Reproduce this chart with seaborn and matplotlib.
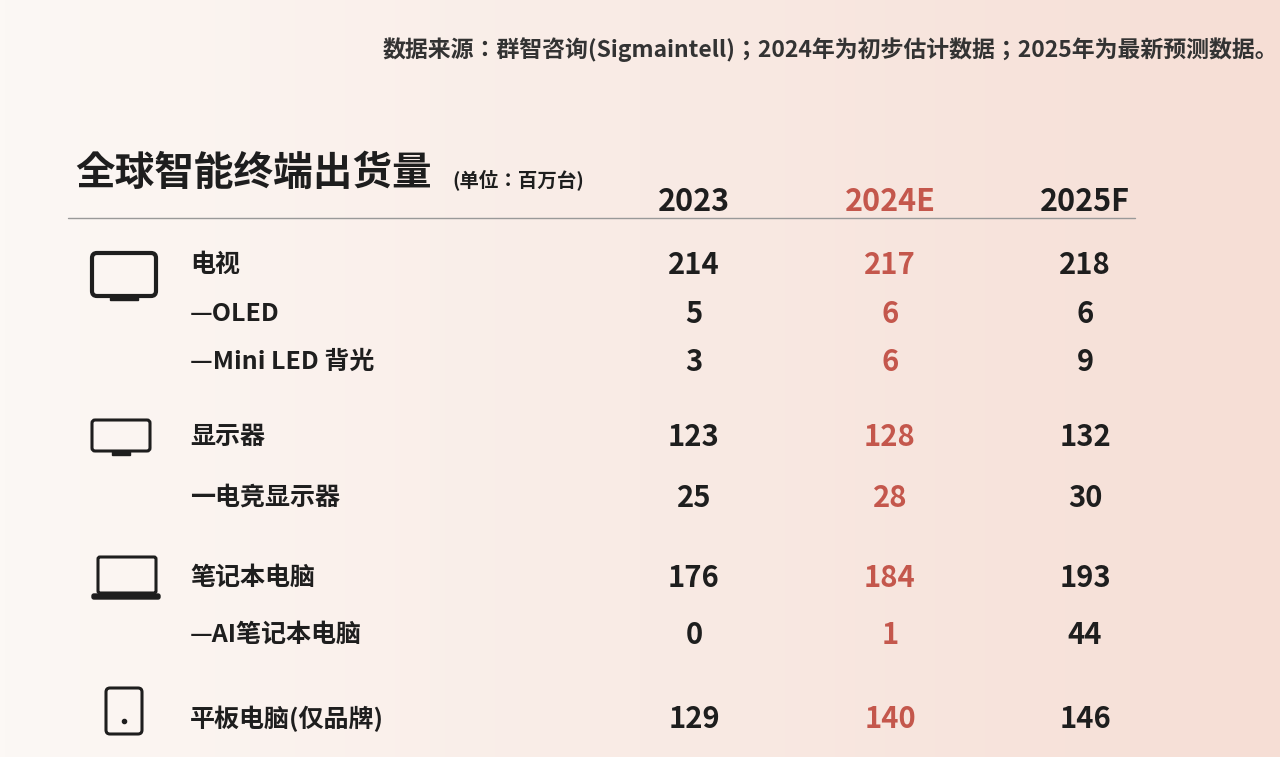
import numpy as np
import matplotlib
matplotlib.use("Agg")
import matplotlib.pyplot as plt
from matplotlib import font_manager as fm
from matplotlib.patches import FancyBboxPatch, Rectangle
import seaborn as sns

names = sorted({f.name for f in fm.fontManager.ttflist})
cjk = [n for n in names if "CJK SC" in n] or [n for n in names if "CJK" in n] or ["DejaVu Sans"]
sns.set_theme(style="white", font=cjk[0])
plt.rcParams["font.family"] = [cjk[0], "DejaVu Sans"]

columns = ["2023", "2024E", "2025F"]
labels = ["电视", "—OLED", "—Mini LED 背光", "显示器", "一电竞显示器", "笔记本电脑", "—AI笔记本电脑", "平板电脑(仅品牌)"]
v2023 = [214, 5, 3, 123, 25, 176, 0, 129]
v2024 = [217, 6, 6, 128, 28, 184, 1, 140]
v2025 = [218, 6, 9, 132, 30, 193, 44, 146]
title = "全球智能终端出货量"
unit = "(单位：百万台)"
source = "数据来源：群智咨询(Sigmaintell)；2024年为初步估计数据；2025年为最新预测数据。"

W, H = 1280, 757
fig = plt.figure(figsize=(12.8, 7.57), dpi=100)
ax = fig.add_axes([0, 0, 1, 1])
ax.set_xlim(0, W); ax.set_ylim(H, 0); ax.axis("off")

c1 = np.array([252, 248, 245]) / 255
c2 = np.array([246, 222, 213]) / 255
t = np.linspace(0, 1, 256)[None, :, None]
grad = c1 + (c2 - c1) * t
ax.imshow(grad, extent=[0, W, H, 0], aspect="auto", zorder=0)

dark = "#1e1e1e"
red = "#c4574c"
ax.text(1278, 50, source, ha="right", va="center", fontsize=16.5, color="#333333", fontweight="bold")
ax.text(75, 173, title, ha="left", va="center", fontsize=28.5, color=dark, fontweight="bold")
ax.text(452, 180, unit, ha="left", va="center", fontsize=14, color=dark, fontweight="bold")
ax.plot([68, 1135], [218, 218], color="#999999", lw=1)

col_x = [694, 890, 1085]
col_c = [dark, red, dark]
for x, name, c in zip(col_x, columns, col_c):
    ax.text(x, 202, name, ha="center", va="center", fontsize=22, color=c, fontweight="bold")

row_y = [265, 314, 362, 437, 498, 578, 635, 719]
for y, lab, a, b, d in zip(row_y, labels, v2023, v2024, v2025):
    ax.text(190, y, lab, ha="left", va="center", fontsize=18, color=dark, fontweight="bold")
    for x, v, c in zip(col_x, (a, b, d), col_c):
        ax.text(x, y, str(v), ha="center", va="center", fontsize=21, color=c, fontweight="bold")

ax.add_patch(FancyBboxPatch((92, 253), 64, 43, boxstyle="round,pad=0,rounding_size=5", fill=False, lw=3, ec=dark))
ax.add_patch(Rectangle((110, 296), 28, 4, color=dark))
ax.add_patch(FancyBboxPatch((92, 420), 58, 31, boxstyle="round,pad=0,rounding_size=3", fill=False, lw=2.2, ec=dark))
ax.add_patch(Rectangle((112, 451), 18, 4, color=dark))
ax.add_patch(FancyBboxPatch((98, 557), 58, 36, boxstyle="round,pad=0,rounding_size=2", fill=False, lw=2.2, ec=dark))
ax.add_patch(FancyBboxPatch((92, 594), 68, 5, boxstyle="round,pad=0,rounding_size=2", color=dark))
ax.add_patch(FancyBboxPatch((106, 688), 36, 46, boxstyle="round,pad=0,rounding_size=4", fill=False, lw=2.2, ec=dark))
ax.plot([124], [721], "o", ms=3, color=dark)

fig.savefig("out.png", dpi=100)
